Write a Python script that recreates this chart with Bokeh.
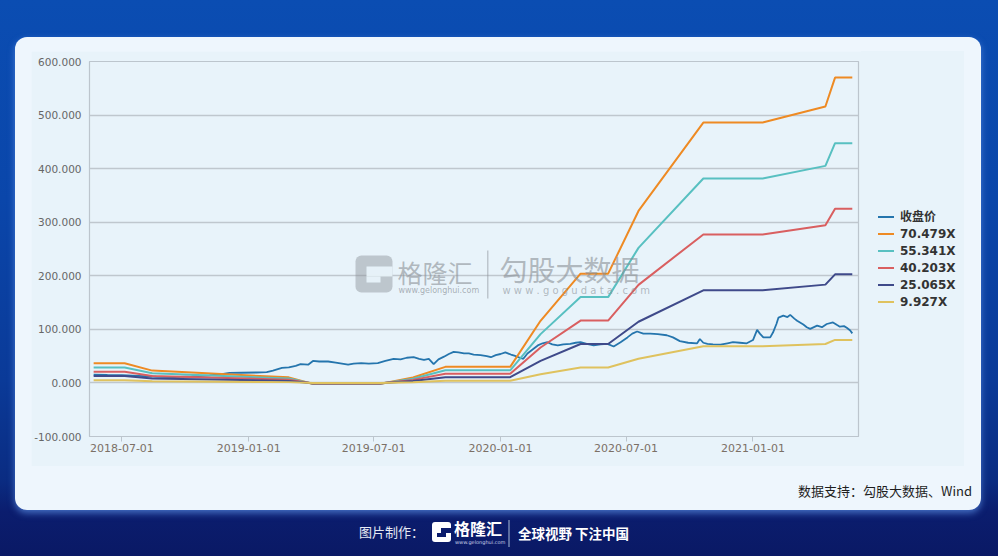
import pandas as pd
from bokeh.plotting import figure
from bokeh.layouts import column, row
from bokeh.models import (BoxAnnotation, Label, FixedTicker, Div,
                          NumeralTickFormatter, DatetimeTickFormatter, Range1d)
from bokeh.embed import file_html
from bokeh.resources import INLINE

# ---------------- data ----------------
band_dates = ["2018-05-21", "2018-07-05", "2018-08-14", "2019-02-28", "2019-04-04",
              "2019-07-10", "2019-08-27", "2019-10-13", "2020-01-15", "2020-02-28",
              "2020-04-26", "2020-06-05", "2020-07-19", "2020-10-21", "2021-01-15",
              "2021-04-16", "2021-04-30", "2021-05-25"]
band_70 = [36.6, 36.6, 23.0, 10.4, -2.0, -2.0, 10.0, 30.0, 30.0, 116, 204, 204, 321, 486, 486, 516, 570, 570]
band_55 = [28.7, 28.7, 18.1, 8.2, -1.6, -1.6, 7.9, 23.6, 23.6, 91.1, 160.2, 160.2, 252.1, 381.6, 381.6, 405.2, 447.6, 447.6]
band_40 = [20.9, 20.9, 13.1, 5.9, -1.1, -1.1, 5.7, 17.1, 17.1, 66.2, 116.4, 116.4, 183.1, 277.2, 277.2, 294.3, 325.2, 325.2]
band_25 = [13.0, 13.0, 8.2, 3.7, -0.7, -0.7, 3.6, 10.7, 10.7, 41.3, 72.6, 72.6, 114.2, 172.8, 172.8, 183.5, 202.7, 202.7]
band_9 = [5.2, 5.2, 3.2, 1.5, -0.3, -0.3, 1.4, 4.2, 4.2, 16.3, 28.7, 28.7, 45.2, 68.5, 68.5, 72.7, 80.3, 80.3]

close_dates = [
    "2018-05-21", "2018-06-10", "2018-07-01", "2018-07-25", "2018-08-20", "2018-09-15",
    "2018-10-10", "2018-11-05", "2018-11-25", "2018-12-04", "2018-12-21", "2019-01-12",
    "2019-01-27", "2019-02-05", "2019-02-18", "2019-02-28", "2019-03-10", "2019-03-17",
    "2019-03-28", "2019-04-04", "2019-04-13", "2019-04-26", "2019-05-07", "2019-05-25",
    "2019-06-02", "2019-06-13", "2019-06-24", "2019-07-07", "2019-07-18", "2019-07-30",
    "2019-08-09", "2019-08-18", "2019-08-28", "2019-09-05", "2019-09-12", "2019-09-19",
    "2019-09-26", "2019-10-03", "2019-10-11", "2019-10-18", "2019-10-25", "2019-11-01",
    "2019-11-09", "2019-11-16", "2019-11-23", "2019-12-03", "2019-12-12", "2019-12-18",
    "2019-12-25", "2020-01-01", "2020-01-08", "2020-01-16", "2020-01-21", "2020-01-29",
    "2020-02-03", "2020-02-09", "2020-02-16", "2020-02-24", "2020-03-02", "2020-03-09",
    "2020-03-16", "2020-03-24", "2020-04-01", "2020-04-11", "2020-04-19", "2020-04-26",
    "2020-05-05", "2020-05-15", "2020-05-25", "2020-06-04", "2020-06-13", "2020-06-23",
    "2020-07-03", "2020-07-10", "2020-07-17", "2020-07-26", "2020-08-05", "2020-08-16",
    "2020-08-29", "2020-09-07", "2020-09-17", "2020-09-29", "2020-10-12", "2020-10-16",
    "2020-10-21", "2020-10-27", "2020-11-04", "2020-11-15", "2020-11-25", "2020-12-03",
    "2020-12-13", "2020-12-23", "2021-01-01", "2021-01-07", "2021-01-11", "2021-01-16",
    "2021-01-26", "2021-01-30", "2021-02-04", "2021-02-07", "2021-02-14", "2021-02-20",
    "2021-02-24", "2021-03-02", "2021-03-06", "2021-03-15", "2021-03-20", "2021-03-25",
    "2021-04-04", "2021-04-11", "2021-04-18", "2021-04-27", "2021-05-03", "2021-05-07",
    "2021-05-13", "2021-05-17", "2021-05-22", "2021-05-25"]
close_values = [
    15.5, 15.0, 14.5, 13.0, 11.5, 11.0,
    12.0, 14.0, 17.0, 18.6, 19.0, 19.5,
    20.0, 23.0, 28.0, 29.0, 32.0, 35.0,
    34.0, 41.0, 40.0, 40.0, 38.0, 34.0,
    36.0, 37.0, 36.0, 37.0, 41.0, 45.0,
    44.0, 47.0, 48.0, 45.0, 43.0, 45.0,
    35.0, 44.0, 49.0, 54.0, 58.0, 57.0,
    55.0, 55.0, 53.0, 52.0, 50.0, 48.0,
    52.0, 54.0, 57.0, 53.0, 51.0, 47.0,
    45.0, 55.0, 62.0, 70.0, 74.0, 76.0,
    72.0, 70.0, 72.0, 73.0, 75.0, 76.0,
    73.0, 70.0, 72.0, 73.0, 68.0, 76.0,
    85.0, 92.0, 96.0, 92.0, 92.0, 91.0,
    89.0, 85.0, 78.0, 75.0, 74.0, 82.0,
    75.0, 73.0, 72.0, 71.5, 74.0, 76.0,
    75.0, 74.0, 80.0, 99.0, 92.0, 85.0,
    85.0, 94.0, 110.0, 122.0, 125.5, 123.0,
    127.0, 120.0, 116.0, 109.0, 104.0, 101.0,
    107.0, 104.0, 110.0, 113.0, 108.0, 105.0,
    106.0, 103.0, 98.0, 92.5]

series_names = ["收盘价", "70.479X", "55.341X", "40.203X", "25.065X", "9.927X"]
series_colors = ["#2575ad", "#ee8a23", "#58c0c1", "#d95f60", "#3f4a8a", "#dfc25e"]
x_tick_labels = ["2018-07-01", "2019-01-01", "2019-07-01", "2020-01-01", "2020-07-01", "2021-01-01"]
y_ticks = [-100, 0, 100, 200, 300, 400, 500, 600]

PANEL = "#e8f3fa"

# ---------------- chart figure (left part of the light-blue panel) ----------------
FW, FH = 830, 415          # figure sits at page (31, 51)
OX, OY = 31, 51

p = figure(width=FW, height=FH, x_axis_type="datetime", output_backend="svg",
           toolbar_location=None,
           x_range=Range1d(pd.Timestamp("2018-05-15"), pd.Timestamp("2021-06-03")),
           y_range=Range1d(-100, 600),
           min_border_left=57, min_border_right=3, min_border_top=10, min_border_bottom=30)
p.border_fill_color = PANEL
p.background_fill_color = PANEL
p.outline_line_color = "#bcc5cd"
p.outline_line_width = 1.2


def box(x0, y0, x1, y1, color, alpha=1.0, radius=0):
    p.add_layout(BoxAnnotation(left=x0 - OX, right=x1 - OX, top=y0 - OY, bottom=y1 - OY,
                               left_units="canvas", right_units="canvas",
                               top_units="canvas", bottom_units="canvas",
                               fill_color=color, fill_alpha=alpha, line_color=None,
                               level="overlay", border_radius=radius))


def text(x, y, s, size, color, font="Noto Sans CJK SC", alpha=1.0):
    p.add_layout(Label(x=x - OX, y=y - OY, x_units="canvas", y_units="canvas", text=s,
                       text_font=font, text_font_size=f"{size}px", text_color=color,
                       text_align="left", text_baseline="middle",
                       text_alpha=alpha, level="overlay"))


# ---------------- axes ----------------
p.xgrid.visible = False
p.ygrid.grid_line_color = "#bfc7ce"
p.ygrid.grid_line_width = 1.3

p.yaxis.ticker = FixedTicker(ticks=y_ticks)
p.yaxis.formatter = NumeralTickFormatter(format="0.000")
p.yaxis.axis_line_color = None
p.yaxis.major_tick_line_color = None
p.yaxis.minor_tick_line_color = None
p.yaxis.major_tick_out = 0
p.yaxis.major_label_standoff = 8
p.yaxis.major_label_text_font = "DejaVu Sans"
p.yaxis.major_label_text_font_size = "10.5px"
p.yaxis.major_label_text_color = "#666666"

x_ticks = [pd.Timestamp(d).value // 10**6 for d in x_tick_labels]
p.xaxis.ticker = FixedTicker(ticks=x_ticks)
p.xaxis.formatter = DatetimeTickFormatter(days="%Y-%m-%d", months="%Y-%m-%d", years="%Y-%m-%d",
                                          hours="%Y-%m-%d", minutes="%Y-%m-%d")
p.xaxis.axis_line_color = "#bcc5cd"
p.xaxis.major_tick_line_color = "#bcc5cd"
p.xaxis.minor_tick_line_color = None
p.xaxis.major_tick_out = 5
p.xaxis.major_tick_in = 0
p.xaxis.major_label_standoff = 2
p.xaxis.major_label_text_font = "DejaVu Sans"
p.xaxis.major_label_text_font_size = "11px"
p.xaxis.major_label_text_color = "#7b7066"

# ---------------- series ----------------
bd = pd.to_datetime(band_dates)
cd = pd.to_datetime(close_dates)
p.line(cd, close_values, line_color=series_colors[0], line_width=1.8)
for vals, col in zip([band_70, band_55, band_40, band_25, band_9], series_colors[1:]):
    p.line(bd, vals, line_color=col, line_width=2)

# ---------------- watermark (inside plot area) ----------------
wm = "#8a9096"
box(355, 255, 392, 292, wm, alpha=0.45, radius=6)
box(366, 266, 392, 276, PANEL, alpha=0.95)
box(366, 276, 380, 282, PANEL, alpha=0.95)
text(397, 271, "格隆汇", 25, wm, alpha=0.6)
text(398, 290, "www.gelonghui.com", 8, wm, font="DejaVu Sans", alpha=0.7)
box(486.5, 250, 488, 298, wm, alpha=0.45)
text(499, 268, "勾股大数据", 28, wm, alpha=0.6)
text(502, 290, "w w w . g o g u d a t a . c o m", 10, wm, font="DejaVu Sans", alpha=0.6)

# ---------------- legend (right part of the panel; div sits at page x 861) ----------------
LX = 861
items = []
for i, (name, col) in enumerate(zip(series_names, series_colors)):
    cy = 217 + 17 * i - OY
    items.append(
        f'<div style="position:absolute;left:{878 - LX}px;top:{cy - 1.25}px;width:16px;height:2.5px;'
        f'background:{col};"></div>'
        f'<span style="position:absolute;left:{900 - LX}px;top:{cy - 8.5}px;line-height:17px;'
        f'font-size:12px;font-weight:bold;color:#333333;white-space:nowrap;'
        f'font-family:\'DejaVu Sans\',\'Noto Sans CJK SC\',sans-serif;">{name}</span>')
legend_div = Div(text='<div style="position:relative;width:103px;height:415px;">' + "".join(items) + '</div>',
                 width=103, height=415, margin=(0, 0, 0, 0), styles={"background": PANEL})

# ---------------- card, source line, footer ----------------
panel_row = row(p, legend_div, width=933, height=415, spacing=0, margin=(14, 17, 0, 16))

source_div = Div(text="数据支持：勾股大数据、Wind", width=941, height=18, margin=(16, 9, 10, 16),
                 styles={"text-align": "right", "font-size": "13px", "line-height": "18px",
                         "color": "#1e1e1e", "font-family": "'Noto Sans CJK SC', sans-serif"})

card = column(panel_row, source_div, width=966, height=473, spacing=0, margin=(37, 17, 0, 15),
              styles={"background": "#eef6fd", "border-radius": "12px",
                      "box-shadow": "0 3px 7px rgba(90,140,225,0.75)"})

footer_html = (
    '<div style="position:relative;width:998px;height:46px;'
    'font-family:\'Noto Sans CJK SC\',sans-serif;">'
    '<span style="position:absolute;left:359px;top:12px;font-size:13px;line-height:20px;'
    'color:#e6eaf4;">图片制作：</span>'
    '<div style="position:absolute;left:432px;top:12px;width:19px;height:20px;'
    'background:#ffffff;border-radius:3px;"></div>'
    '<div style="position:absolute;left:441px;top:18px;width:10px;height:5px;background:#0b1c6c;"></div>'
    '<div style="position:absolute;left:437px;top:23px;width:9px;height:4px;background:#0b1c6c;"></div>'
    '<span style="position:absolute;left:454px;top:9px;font-size:16px;line-height:19px;'
    'font-weight:bold;color:#ffffff;">格隆汇</span>'
    '<span style="position:absolute;left:455px;top:30px;font-size:5px;line-height:5px;'
    'color:#c8d0e8;font-family:\'DejaVu Sans\';">www.gelonghui.com</span>'
    '<div style="position:absolute;left:508px;top:10px;width:1.5px;height:27px;background:#5a6ca0;"></div>'
    '<span style="position:absolute;left:518px;top:13px;font-size:13.5px;line-height:20px;'
    'font-weight:bold;color:#ffffff;">全球视野 下注中国</span>'
    '</div>')
footer = Div(text=footer_html, width=998, height=46, margin=(0, 0, 0, 0))

root = column(card, footer, width=998, height=556, spacing=0,
              styles={"background": "linear-gradient(180deg, #0b4db2 0px, #0a46aa 200px, "
                                    "#0a3a98 380px, #0a2c82 480px, #0b1d6e 512px, #0a1965 556px)"})

try:
    from bokeh.models import GlobalInlineStyleSheet
    root.stylesheets = [GlobalInlineStyleSheet(
        css="html,body{margin:0 !important;padding:0;overflow:hidden;background:#0a1a68;}")]
except Exception:
    pass

open("out.html", "w").write(file_html(root, INLINE))
